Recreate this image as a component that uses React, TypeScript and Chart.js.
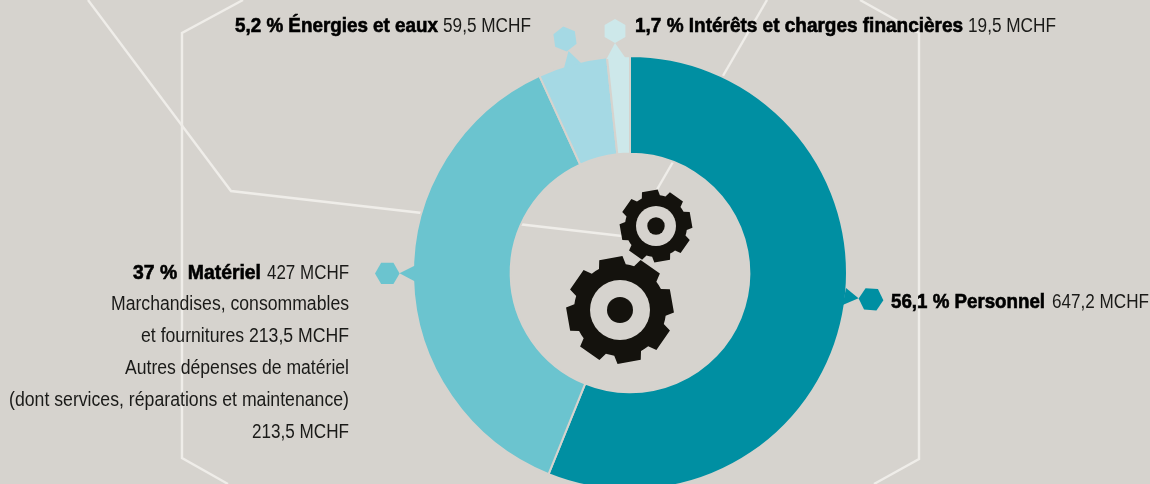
import React, { useEffect, useRef } from "react";
import { Chart, registerables } from "chart.js";

Chart.register(...registerables);

const categories = ["Personnel", "Matériel", "Énergies et eaux", "Intérêts et charges financières"];
const amounts = [647.2, 427, 59.5, 19.5];
const sliceColors = ["#008fa2", "#6bc4cf", "#a5d9e4", "#cde8ea"];

const BG = "#d6d3ce";
const LINE = "#efede9";
const DARK = "#14120d";
const SANS = '"Liberation Sans", sans-serif';
const SIZE = 20;

type Run = { t: string; b?: boolean; x0: number; x1: number; y: number };

const labelRuns: Run[] = [
  { t: "5,2 % Énergies et eaux", b: true, x0: 235, x1: 438, y: 32 },
  { t: "59,5 MCHF", x0: 443, x1: 531, y: 32 },
  { t: "1,7 % Intérêts et charges financières", b: true, x0: 635, x1: 963, y: 32 },
  { t: "19,5 MCHF", x0: 968, x1: 1056, y: 32 },
  { t: "56,1 % Personnel", b: true, x0: 891, x1: 1045, y: 308 },
  { t: "647,2 MCHF", x0: 1052, x1: 1149, y: 308 },
  { t: "37 %  Matériel", b: true, x0: 133, x1: 261, y: 279 },
  { t: "427 MCHF", x0: 267, x1: 349, y: 279 },
  { t: "Marchandises, consommables", x0: 111, x1: 349, y: 310 },
  { t: "et fournitures 213,5 MCHF", x0: 141, x1: 349, y: 342 },
  { t: "Autres dépenses de matériel", x0: 125, x1: 349, y: 374 },
  { t: "(dont services, réparations et maintenance)", x0: 9, x1: 349, y: 406 },
  { t: "213,5 MCHF", x0: 252, x1: 349, y: 438 },
];

const linePaths: number[][][] = [
  [[243, 0], [182, 33], [182, 458], [228, 484]],
  [[860, 0], [919, 33], [919, 459], [874, 484]],
  [[88, 0], [231, 191], [622, 236]],
  [[767, 0], [637, 224]],
];

const pointers = [
  { color: 0, tri: [[846, 288], [842.7, 305], [858.5, 298.3]], hex: [871, 299.3, 12.4, 4] },
  { color: 1, tri: [[416, 265], [416, 282], [399.5, 273.3]], hex: [387.3, 273.4, 12.3, 0] },
  { color: 2, tri: [[564, 68], [581, 63], [568.5, 51]], hex: [565, 39, 12.5, 22] },
  { color: 3, tri: [[606.5, 59], [625.5, 58], [615, 43]], hex: [615, 31, 12, 30] },
];

const gears = [
  { cx: 620, cy: 310, tip: 54, body: 46, hole: 30, dot: 13 },
  { cx: 656, cy: 226, tip: 36.5, body: 31, hole: 20, dot: 8.7 },
];
const TEETH = 8;
const TOOTH_OFFSET = -10;

function drawGear(ctx: CanvasRenderingContext2D, g: (typeof gears)[number]) {
  const step = (Math.PI * 2) / TEETH;
  const start = (TOOTH_OFFSET * Math.PI) / 180 - Math.PI / 2;
  ctx.fillStyle = DARK;
  ctx.beginPath();
  for (let i = 0; i < TEETH; i++) {
    const a = start + i * step;
    const pts: [number, number][] = [
      [a - 0.3, g.body],
      [a - 0.22, g.tip],
      [a + 0.22, g.tip],
      [a + 0.3, g.body],
    ];
    pts.forEach(([an, r]) => ctx.lineTo(g.cx + r * Math.cos(an), g.cy + r * Math.sin(an)));
    ctx.arc(g.cx, g.cy, g.body, a + 0.3, a + step - 0.3);
  }
  ctx.closePath();
  ctx.fill();
  ctx.fillStyle = BG;
  ctx.beginPath();
  ctx.arc(g.cx, g.cy, g.hole, 0, Math.PI * 2);
  ctx.fill();
  ctx.fillStyle = DARK;
  ctx.beginPath();
  ctx.arc(g.cx, g.cy, g.dot, 0, Math.PI * 2);
  ctx.fill();
}

const decor = {
  id: "decor",
  beforeDraw(chart: Chart) {
    const ctx = chart.ctx;
    ctx.save();
    ctx.fillStyle = BG;
    ctx.fillRect(0, 0, chart.width, chart.height);
    ctx.strokeStyle = LINE;
    ctx.lineWidth = 2.4;
    ctx.lineJoin = "miter";
    linePaths.forEach((p) => {
      ctx.beginPath();
      p.forEach(([x, y], i) => (i ? ctx.lineTo(x, y) : ctx.moveTo(x, y)));
      ctx.stroke();
    });
    ctx.restore();
  },
  afterDraw(chart: Chart) {
    const ctx = chart.ctx;
    ctx.save();
    pointers.forEach((p) => {
      ctx.fillStyle = sliceColors[p.color];
      ctx.beginPath();
      p.tri.forEach(([x, y], i) => (i ? ctx.lineTo(x, y) : ctx.moveTo(x, y)));
      ctx.closePath();
      ctx.fill();
      const [cx, cy, r, rot] = p.hex;
      ctx.beginPath();
      for (let i = 0; i < 6; i++) {
        const a = ((rot + i * 60) * Math.PI) / 180;
        ctx.lineTo(cx + r * Math.cos(a), cy + r * Math.sin(a));
      }
      ctx.closePath();
      ctx.fill();
    });
    gears.forEach((g) => drawGear(ctx, g));
    ctx.textBaseline = "alphabetic";
    ctx.textAlign = "left";
    labelRuns.forEach((r) => {
      ctx.save();
      ctx.font = `${r.b ? "bold " : ""}${SIZE}px ${SANS}`;
      const sx = (r.x1 - r.x0) / ctx.measureText(r.t).width;
      ctx.translate(r.x0, r.y);
      ctx.scale(sx, 1);
      ctx.fillStyle = r.b ? "#000000" : "#1a1a18";
      ctx.fillText(r.t, 0, 0);
      if (r.b) {
        ctx.strokeStyle = "#000000";
        ctx.lineWidth = 0.6;
        ctx.strokeText(r.t, 0, 0);
      }
      ctx.restore();
    });
    ctx.restore();
  },
};

export default function App() {
  const ref = useRef<HTMLCanvasElement>(null);
  useEffect(() => {
    if (!ref.current) return;
    const chart = new Chart(ref.current, {
      type: "doughnut",
      data: {
        labels: categories,
        datasets: [
          {
            data: amounts,
            backgroundColor: sliceColors,
            borderColor: BG,
            borderWidth: 2,
          },
        ],
      },
      options: {
        responsive: false,
        animation: false,
        cutout: "55%",
        layout: { padding: { left: 412, right: 302, top: 55, bottom: 69 } },
        plugins: { legend: { display: false }, tooltip: { enabled: false } },
      },
      plugins: [decor],
    } as any);
    return () => chart.destroy();
  }, []);
  return (
    <div style={{ position: "fixed", left: 0, top: 0, width: 1150, height: 484, overflow: "hidden", background: BG }}>
      <canvas ref={ref} width={1150} height={560} style={{ display: "block" }} />
    </div>
  );
}
